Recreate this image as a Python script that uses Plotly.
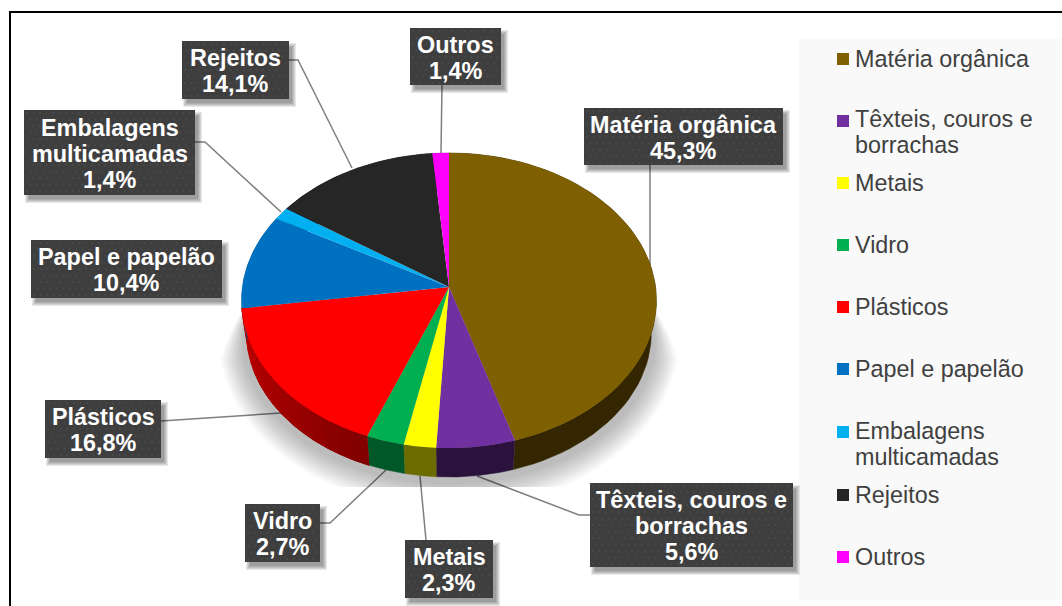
import numpy as np
import plotly.graph_objects as go

# ---- data ----
categories = ["Matéria orgânica", "Têxteis, couros e borrachas", "Metais", "Vidro", "Plásticos",
              "Papel e papelão", "Embalagens multicamadas", "Rejeitos", "Outros"]
values = [45.3, 5.6, 2.3, 2.7, 16.8, 10.4, 1.4, 14.1, 1.4]
value_labels = ["45,3%", "5,6%", "2,3%", "2,7%", "16,8%", "10,4%", "1,4%", "14,1%", "1,4%"]
colors = ["#7f6000", "#7030a0", "#ffff00", "#00b050", "#ff0000", "#0070c0", "#00b0f0", "#262626", "#ff00ff"]
label_lines = [["Matéria orgânica"], ["Têxteis, couros e", "borrachas"], ["Metais"], ["Vidro"], ["Plásticos"],
               ["Papel e papelão"], ["Embalagens", "multicamadas"], ["Rejeitos"], ["Outros"]]

# ---- layout (pixels) ----
W, H = 1062, 606
CX, CY, A, B, K = 449.0, 287.0, 206.6, 146.3, 0.0915
DEPTH_Y, DEPTH_SCALE = 33.0, 0.975
side_shades = [(0.40, 0.40), (0.38, 0.38), (0.42, 0.42), (0.50, 0.50), (0.50, 0.76),
               (0.7, 0.7), (0.7, 0.7), (0.4, 0.4), (0.6, 0.6)]
boxes = [(584, 108, 199, 57), (590, 483, 203, 84), (405, 540, 88, 58), (245, 504, 75, 58), (45, 400, 116, 58),
         (31, 240, 191, 58), (24, 110, 171, 85), (182, 41, 107, 58), (410, 28, 91, 57)]
leaders = [[(650, 165), (650, 265)],
           [(590, 515), (579, 515), (477, 476)],
           [(426, 540), (420, 476)],
           [(320, 523), (330, 523), (386, 470)],
           [(161, 421), (281, 413)],
           [],
           [(195, 142), (205, 142), (281, 212)],
           [(289, 60), (298, 60), (352, 168)],
           [(442, 85), (441, 153)]]
legend_x = 837
legend_ys = [59, 121, 183, 245, 307, 369, 432, 495, 557]
legend_text_off = [-0.5, -2, -0.5, -0.5, -0.5, -0.5, -1, 0, 0]
LINE_H = 26
FONT = "Liberation Sans, Arial, sans-serif"


def project(theta, scale=1.0, dy=0.0, grow=0.0):
    u, v = np.sin(theta), -np.cos(theta)
    w = 1 - K * v
    return CX + (A * scale + grow) * u / w, CY + dy + (B * scale + grow) * v / w


def shade(hex_color, f):
    r, g, b = [int(hex_color[i:i + 2], 16) for i in (1, 3, 5)]
    return f"rgb({r * f:.0f},{g * f:.0f},{b * f:.0f})"


fig = go.Figure()

# soft shadow below the pie, tapering towards the pie's widest point
full = np.linspace(0, 2 * np.pi, 240)
x0, _ = project(full, DEPTH_SCALE, DEPTH_Y + 1, 0)
for g in range(1, 13):
    xg, yg = project(full, DEPTH_SCALE, DEPTH_Y + 1, 30 - 2 * g)
    t = np.clip((yg - 295) / 65, 0, 1)
    fig.add_trace(go.Scatter(x=x0 + (xg - x0) * t, y=np.clip(yg, 295, 487), fill="toself", mode="none",
                             fillcolor="rgba(0,0,0,0.022)", hoverinfo="skip", showlegend=False))

cum = np.concatenate([[0], np.cumsum(values)]) / sum(values) * 2 * np.pi

# side walls
for i, c in enumerate(colors):
    t0, t1 = cum[i], cum[i + 1]
    f0, f1 = side_shades[i]
    n = 1 if f0 == f1 else 14
    th = np.linspace(t0, t1, 60)
    xt, yt = project(th)
    xb, yb = project(th[::-1], DEPTH_SCALE, DEPTH_Y)
    col = shade(c, (f0 + f1) / 2)
    fig.add_trace(go.Scatter(x=np.r_[xt, xb], y=np.r_[yt, yb], fill="toself", mode="lines",
                             line=dict(color=col, width=0.5), fillcolor=col,
                             hoverinfo="skip", showlegend=False))
    if n > 1:
        edges = np.linspace(t0, t1, n + 1)
        for j in range(n):
            col = shade(c, f0 + (f1 - f0) * (j + 0.5) / n)
            th = np.linspace(edges[j], edges[j + 1], 5)
            xt, yt = project(th)
            xb, yb = project(th[::-1], DEPTH_SCALE, DEPTH_Y)
            fig.add_trace(go.Scatter(x=np.r_[xt, xb], y=np.r_[yt, yb], fill="toself", mode="lines",
                                     line=dict(color=col, width=1), fillcolor=col,
                                     hoverinfo="skip", showlegend=False))

# top faces
for i, c in enumerate(colors):
    th = np.linspace(cum[i], cum[i + 1], max(4, int(values[i] * 4)))
    xt, yt = project(th)
    fig.add_trace(go.Scatter(x=np.r_[CX, xt], y=np.r_[CY, yt], fill="toself", mode="none", fillcolor=c,
                             name=categories[i], text=f"{categories[i]}: {value_labels[i]}",
                             hoveron="fills", hoverinfo="text", showlegend=False))

shapes = [
    dict(type="rect", x0=799, x1=W, y0=39, y1=600, fillcolor="#f9f9f9", line_width=0, layer="below"),
    dict(type="path", path=f"M 10 606 L 10 12 L {W} 12", line=dict(color="black", width=2), layer="below"),
]
for path in leaders:
    if path:
        d = "M " + " L ".join(f"{a} {b}" for a, b in path)
        shapes.append(dict(type="path", path=d, line=dict(color="#7f7f7f", width=1.5), layer="below"))

annotations = []
dot_x, dot_y = [], []
for i, (bx, by, bw, bh) in enumerate(boxes):
    for g in range(5):
        fig.add_trace(go.Scatter(x=[bx + 1 + g, bx + bw + 7 - g, bx + bw + 7 - g, bx + 1 + g, bx + 1 + g],
                                 y=[by + 2 + g, by + 2 + g, by + bh + 8 - g, by + bh + 8 - g, by + 2 + g],
                                 fill="toself", mode="none", fillcolor="rgba(0,0,0,0.09)",
                                 hoverinfo="skip", showlegend=False))
    fig.add_trace(go.Scatter(x=[bx, bx + bw, bx + bw, bx, bx], y=[by, by, by + bh, by + bh, by],
                             fill="toself", mode="none", fillcolor="#3e3e3e", hoverinfo="skip", showlegend=False))
    for r, yy in enumerate(np.arange(by + 3, by + bh, 6.5)):
        for xx in np.arange(bx + 3 + (r % 2) * 3.25, bx + bw - 1, 6.5):
            dot_x.append(xx)
            dot_y.append(yy)
    lines = label_lines[i] + [value_labels[i]]
    mid = by + bh / 2
    for k, line in enumerate(lines):
        annotations.append(dict(x=bx + bw / 2, y=mid + 1 + (k - (len(lines) - 1) / 2) * LINE_H, xref="x", yref="y",
                                xanchor="center", yanchor="middle", showarrow=False, text=line, borderpad=0,
                                font=dict(family=FONT, size=23.4, color="white", weight="bold")))
fig.add_trace(go.Scatter(x=dot_x, y=dot_y, mode="markers", marker=dict(size=1.8, color="#4d4d4d", line_width=0),
                         hoverinfo="skip", showlegend=False))

# key (square + name)
for i, lines in enumerate(label_lines):
    yy = legend_ys[i]
    shapes.append(dict(type="rect", x0=legend_x, x1=legend_x + 12, y0=yy - 6, y1=yy + 6, fillcolor=colors[i], line_width=0))
    for k, line in enumerate(lines):
        annotations.append(dict(x=853.5, y=yy + legend_text_off[i] + k * LINE_H, xref="x", yref="y", xanchor="left",
                                yanchor="middle", showarrow=False, borderpad=0, text=line,
                                font=dict(family=FONT, size=23.35, color="#404040")))

fig.update_layout(width=W, height=H, margin=dict(l=0, r=0, t=0, b=0), paper_bgcolor="white", plot_bgcolor="white",
                  xaxis=dict(range=[0, W], visible=False, fixedrange=True),
                  yaxis=dict(range=[H, 0], visible=False, fixedrange=True),
                  showlegend=False, shapes=shapes, annotations=annotations)
fig.write_html("out.html", post_script="document.body.style.margin='0';document.body.style.overflow='hidden';",
               config=dict(displayModeBar=False))
